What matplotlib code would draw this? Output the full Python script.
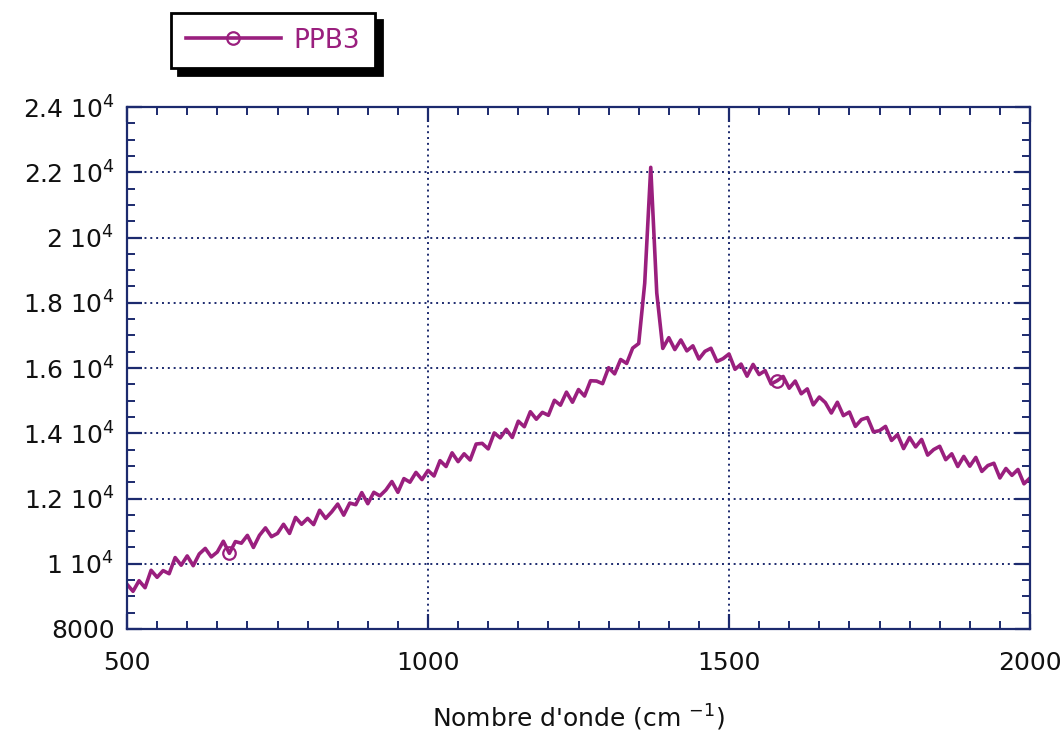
import numpy as np
import matplotlib
matplotlib.use('Agg')
import matplotlib.pyplot as plt
from matplotlib.ticker import MultipleLocator, FixedLocator, FixedFormatter

plt.rcParams['font.family'] = ['DejaVu Sans']
plt.rcParams['mathtext.fontset'] = 'dejavusans'
plt.rcParams['mathtext.default'] = 'regular'

wavenumber = np.arange(500, 2001, 10)
intensity = [
    9370, 9155, 9480, 9265, 9800, 9585, 9790, 9695, 10190, 9955,
    10240, 9940, 10300, 10470, 10210, 10360, 10690, 10320, 10680, 10630,
    10870, 10500, 10870, 11100, 10830, 10930, 11210, 10930, 11420, 11210,
    11390, 11200, 11640, 11390, 11590, 11830, 11490, 11860, 11810, 12180,
    11840, 12190, 12080, 12260, 12520, 12190, 12610, 12500, 12800, 12580,
    12860, 12690, 13160, 12980, 13400, 13130, 13370, 13180, 13670, 13690,
    13520, 14010, 13860, 14120, 13870, 14370, 14200, 14660, 14430, 14640,
    14550, 15010, 14860, 15260, 14950, 15340, 15140, 15610, 15600, 15520,
    16010, 15820, 16260, 16140, 16610, 16750, 18600, 22150, 18300, 16600,
    16930, 16565, 16860, 16525, 16680, 16275, 16510, 16605, 16200, 16285,
    16430, 15960, 16120, 15750, 16110, 15800, 15920, 15510, 15610, 15740,
    15380, 15600, 15210, 15360, 14870, 15110, 14940, 14620, 14950, 14540,
    14650, 14210, 14420, 14480, 14040, 14080, 14210, 13780, 13960, 13530,
    13870, 13580, 13810, 13330, 13500, 13600, 13190, 13370, 12980, 13290,
    12990, 13260, 12830, 13010, 13080, 12630, 12920, 12710, 12890, 12450, 12630,
]
series_name = 'PPB3'

y_ticks = [8000, 10000, 12000, 14000, 16000, 18000, 20000, 22000, 24000]
y_labels = ['8000', r'1 10$^{4}$', r'1.2 10$^{4}$', r'1.4 10$^{4}$', r'1.6 10$^{4}$',
            r'1.8 10$^{4}$', r'2 10$^{4}$', r'2.2 10$^{4}$', r'2.4 10$^{4}$']
x_ticks = [500, 1000, 1500, 2000]

line_col = '#9a1f7e'
axis_col = '#1c2a6e'

fig = plt.figure(figsize=(10.63, 7.40), dpi=100)
ax = fig.add_axes([127/1063, 1 - 629/740, (1030 - 127)/1063, (629 - 107)/740])

ax.plot(wavenumber, intensity, color=line_col, lw=2.6, label=series_name,
        marker='o', markersize=9, markerfacecolor='none', markeredgewidth=1.6,
        markevery=[17, 108])

ax.set_xlim(500, 2000)
ax.set_ylim(8000, 24000)
ax.xaxis.set_major_locator(FixedLocator(x_ticks))
ax.xaxis.set_minor_locator(MultipleLocator(50))
ax.yaxis.set_major_locator(FixedLocator(y_ticks))
ax.yaxis.set_major_formatter(FixedFormatter(y_labels))
ax.yaxis.set_minor_locator(MultipleLocator(500))

ax.grid(True, which='major', color=axis_col, linestyle=(0, (1, 2)), linewidth=1.4)
for s in ax.spines.values():
    s.set_color(axis_col)
    s.set_linewidth(1.6)

ax.tick_params(which='both', direction='in', top=True, right=True, color=axis_col,
               labelsize=18, labelcolor='#111111')
ax.tick_params(which='major', length=11, width=1.6)
ax.tick_params(which='minor', length=6, width=1.4)
ax.tick_params(axis='x', which='major', pad=16)
ax.tick_params(axis='y', which='major', pad=9)

ax.set_xlabel(r"Nombre d'onde (cm $^{-1}$)", fontsize=18, labelpad=20, color='#111111')

# legende au-dessus du cadre, avec ombre noire
leg = ax.legend(loc='upper left', bbox_to_anchor=(171/1063, 1 - 13/740),
                bbox_transform=fig.transFigure, borderaxespad=0, fontsize=19,
                labelcolor='linecolor', fancybox=False, handlelength=3.6,
                handletextpad=0.5, borderpad=0.55,
                shadow={'color': 'black', 'alpha': 1, 'ox': 5, 'oy': -5},
                framealpha=1)
leg.get_frame().set_edgecolor('black')
leg.get_frame().set_linewidth(2)

fig.savefig('out.png', dpi=100, facecolor='white')
